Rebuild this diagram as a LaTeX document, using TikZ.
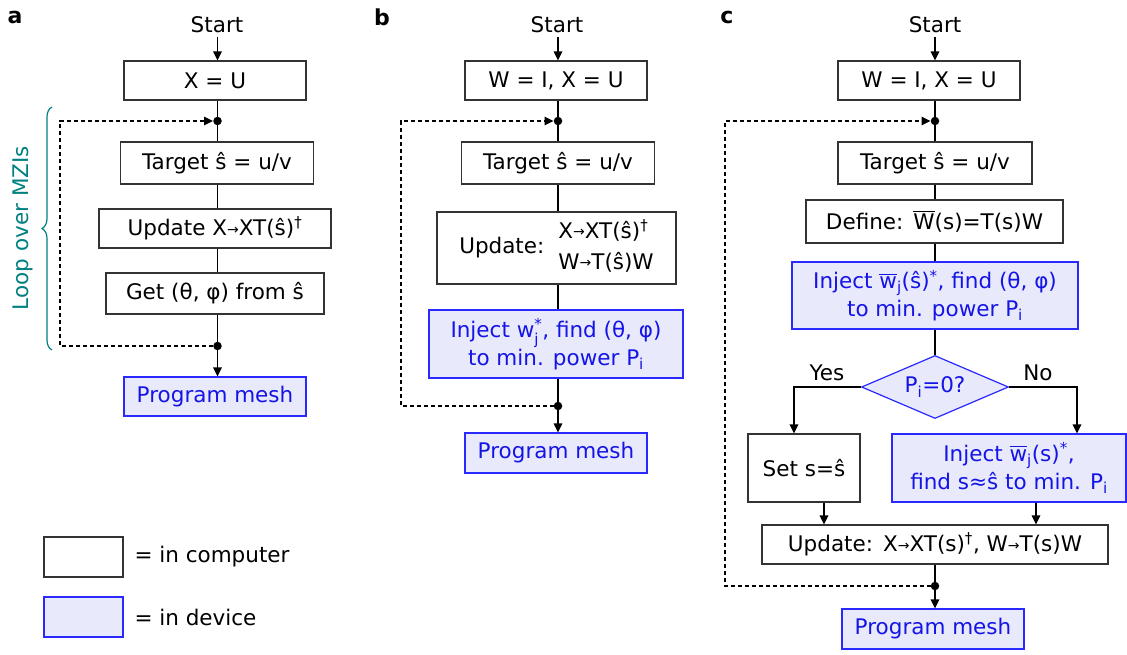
\documentclass[tikz,border=0pt]{standalone}
\usepackage{fontspec}
\usepackage{amsmath}
\setmainfont{DejaVu Sans}
\usetikzlibrary{arrows.meta,shapes.geometric,decorations.pathreplacing}
\definecolor{devfill}{RGB}{233,233,252}
\definecolor{devdraw}{RGB}{40,40,255}
\definecolor{devtext}{RGB}{20,20,230}
\definecolor{loopteal}{RGB}{0,128,128}
\newcommand\sarr{\raisebox{1.5pt}{\fontsize{14}{14}\selectfont →}}
\newcommand\wbar{\ensuremath{\overline{\text{w}}_{\text{j}}}}
\begin{document}
\begin{tikzpicture}[x=1pt,y=-1pt, font=\fontsize{21.5}{28}\selectfont,
 comp/.style={draw=black!80, line width=1.2pt, fill=white, inner sep=1pt},
 dev/.style={draw=devdraw, line width=1.2pt, fill=devfill, text=devtext, inner sep=1pt},
 conn/.style={line width=1.4pt, black},
 arr/.style={conn, -{Triangle[length=9pt,width=8.5pt]}},
 loopline/.style={line width=1.4pt, dash pattern=on 4pt off 3pt, -{Triangle[length=9pt,width=8.5pt]}},
 jdot/.style={circle, fill=black, inner sep=0pt, minimum size=8.5pt},
 lbl/.style={font=\fontsize{22}{24}\selectfont\bfseries}]
\useasboundingbox (0,0) rectangle (1127,654);

% ---------- panel a ----------
\node[lbl] (la) at (15,17) {a};
\node (as) at (217,25) {Start};
\node[comp, minimum width=182, minimum height=39] (a1) at (215,80.5) {X = U};
\node[jdot] (ja1) at (217.5,121) {};
\node[comp, minimum width=193, minimum height=42] (a2) at (217,163) {Target ŝ = u/v};
\node[comp, minimum width=232, minimum height=39] (a3) at (215,228.5) {Update X\sarr XT(ŝ)\textsuperscript{†}};
\node[comp, minimum width=218, minimum height=41] (a4) at (215,293.5) {Get (θ, φ) from ŝ};
\node[jdot] (ja2) at (217.5,346) {};
\node[dev, minimum width=182, minimum height=39] (a5) at (215,396.5) {Program mesh};
\coordinate (lat) at (60,121);
\coordinate (lab) at (60,346);
\draw[arr] (as.south -| ja1) -- (a1.north -| ja1);
\draw[conn] (a1.south -| ja1) -- (ja1) -- (a2.north -| ja1);
\draw[conn] (a2.south -| ja1) -- (a3.north -| ja1);
\draw[conn] (a3.south -| ja1) -- (a4.north -| ja1);
\draw[conn] (a4.south -| ja1) -- (ja2);
\draw[arr] (ja2) -- (a5.north -| ja2);
\draw[loopline] (ja2) -- (lab) -- (lat) -- (ja1);
\draw[loopteal, line width=1.2pt, decorate, decoration={brace, amplitude=10pt}] (52,350) -- (52,107);
\node[rotate=90, text=loopteal] (loopl) at (23,228) {Loop over MZIs};

% ---------- panel b ----------
\node[lbl] (lb) at (382,17) {b};
\node (bs) at (557,25) {Start};
\node[comp, minimum width=182, minimum height=39] (b1) at (556,80.5) {W = I, X = U};
\node[jdot] (jb1) at (558,121) {};
\node[comp, minimum width=193, minimum height=42] (b2) at (558,163) {Target ŝ = u/v};
\node[comp, minimum width=239, minimum height=72] (b3) at (556.5,248) {Update:\hspace{14pt}\begin{tabular}[c]{@{}l@{}}X\sarr XT(ŝ)\textsuperscript{†}\\[3pt]W\sarr T(ŝ)W\end{tabular}};
\node[dev, minimum width=254, minimum height=68, align=center] (b4) at (556,344) {Inject \ensuremath{\text{w}_{\text{j}}^{\text{*}}}, find (θ, φ)\\to min. power P\textsubscript{i}};
\node[jdot] (jb2) at (558,406) {};
\node[dev, minimum width=182, minimum height=40] (b5) at (556,453) {Program mesh};
\coordinate (lbt) at (401,121);
\coordinate (lbb) at (401,406);
\draw[arr] (bs.south -| jb1) -- (b1.north -| jb1);
\draw[conn] (b1.south -| jb1) -- (jb1) -- (b2.north -| jb1);
\draw[conn] (b2.south -| jb1) -- (b3.north -| jb1);
\draw[conn] (b3.south -| jb1) -- (b4.north -| jb1);
\draw[conn] (b4.south -| jb1) -- (jb2);
\draw[arr] (jb2) -- (b5.north -| jb2);
\draw[loopline] (jb2) -- (lbb) -- (lbt) -- (jb1);

% ---------- panel c ----------
\node[lbl] (lc) at (727,17) {c};
\node (cs) at (935,25) {Start};
\node[comp, minimum width=182, minimum height=39] (c1) at (929,80.5) {W = I, X = U};
\node[jdot] (jc1) at (935,121) {};
\node[comp, minimum width=194, minimum height=42] (c2) at (935,163) {Target ŝ = u/v};
\node[comp, minimum width=257, minimum height=43] (c3) at (934.5,221.5) {Define:\hspace{10pt}\ensuremath{\overline{\text{W}}}(s)=T(s)W};
\node[dev, minimum width=286, minimum height=67, align=center] (c4) at (935,295.5) {Inject \wbar(ŝ)\textsuperscript{*}, find (θ, φ)\\to min. power P\textsubscript{i}};
\node[dev, diamond, minimum width=147, minimum height=63, inner sep=0pt, aspect=2.33] (c5) at (935,387) {P\textsubscript{i}=0?};
\node (yes) at (827,373) {Yes};
\node (no) at (1038,373) {No};
\node[comp, minimum width=112, minimum height=68] (c6) at (804,468) {Set s=ŝ};
\node[dev, minimum width=234, minimum height=68, align=center] (c7) at (1009,468) {Inject \wbar(s)\textsuperscript{*},\\find s≈ŝ to min. P\textsubscript{i}};
\node[comp, minimum width=346, minimum height=39] (c8) at (935,544.5) {Update:\hspace{10pt}X\sarr XT(s)\textsuperscript{†}, W\sarr T(s)W};
\node[jdot] (jc2) at (935,586) {};
\node[dev, minimum width=182, minimum height=40] (c9) at (933,629) {Program mesh};
\coordinate (yc) at (794,387);
\coordinate (nc) at (1077,387);
\coordinate (lct) at (725,121);
\coordinate (lcb) at (725,586);
\draw[arr] (cs.south -| jc1) -- (c1.north -| jc1);
\draw[conn] (c1.south -| jc1) -- (jc1) -- (c2.north -| jc1);
\draw[conn] (c2.south -| jc1) -- (c3.north -| jc1);
\draw[conn] (c3.south -| jc1) -- (c4.north -| jc1);
\draw[conn] (c4.south -| jc1) -- (c5.north);
\draw[arr] (c5.west) -- (yc) -- (yc |- c6.north);
\draw[arr] (c5.east) -- (nc) -- (nc |- c7.north);
\draw[arr] ([xshift=20]c6.south) -- ([xshift=20]c6.south |- c8.north);
\draw[arr] ([xshift=27]c7.south) -- ([xshift=27]c7.south |- c8.north);
\draw[conn] (c8.south -| jc2) -- (jc2);
\draw[arr] (jc2) -- (c9.north -| jc2);
\draw[loopline] (jc2) -- (lcb) -- (lct) -- (jc1);

% ---------- legend ----------
\node[comp, minimum width=79, minimum height=40] (lg1) at (83.5,557) {};
\node[anchor=west] (lt1) at (131,557) {= in computer};
\node[dev, minimum width=79, minimum height=40] (lg2) at (83.5,617) {};
\node[anchor=west] (lt2) at (131,617) {= in device};
\end{tikzpicture}
\end{document}
